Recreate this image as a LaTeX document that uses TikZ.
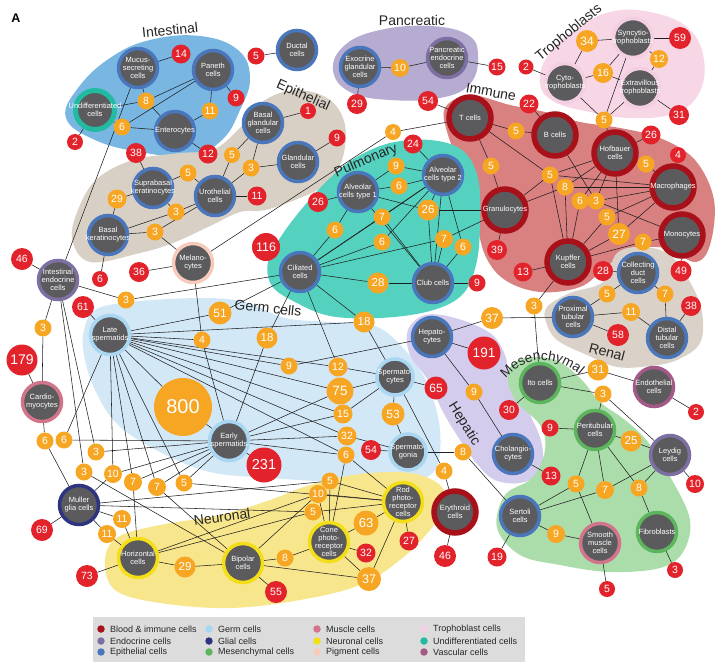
\documentclass[tikz,border=0pt]{standalone}
\usepackage{fontspec}
\setmainfont{Liberation Sans}
\setsansfont{Liberation Sans}
\usetikzlibrary{decorations.text}
\definecolor{cgray}{HTML}{5B5B5D}
\definecolor{cred}{HTML}{E3232C}
\definecolor{corg}{HTML}{F6A623}
\definecolor{cepi}{HTML}{4A76BC}
\definecolor{cimm}{HTML}{A8101A}
\definecolor{cendo}{HTML}{7E6FA3}
\definecolor{cgerm}{HTML}{A9D6F0}
\definecolor{cgli}{HTML}{2F3480}
\definecolor{cmes}{HTML}{5DB65D}
\definecolor{cmus}{HTML}{D2748A}
\definecolor{cneu}{HTML}{F3DE17}
\definecolor{cpig}{HTML}{F6CBBC}
\definecolor{ctro}{HTML}{F4CFE1}
\definecolor{cund}{HTML}{22BBA2}
\definecolor{cvas}{HTML}{A45A86}
\definecolor{bint}{HTML}{79B7E2}
\definecolor{bepi}{HTML}{D9D0C5}
\definecolor{bpan}{HTML}{B6ACD1}
\definecolor{btro}{HTML}{F7D6E6}
\definecolor{bimm}{HTML}{D98080}
\definecolor{bren}{HTML}{DAD2C8}
\definecolor{bpul}{HTML}{55D1BF}
\definecolor{bger}{HTML}{D2E8F7}
\definecolor{bhep}{HTML}{D3CCEC}
\definecolor{bmes}{HTML}{ABDDAB}
\definecolor{bneu}{HTML}{F8E68C}
\definecolor{bleg}{HTML}{DCDCDC}
\pgfdeclarelayer{blobs}
\pgfdeclarelayer{edges}
\pgfsetlayers{blobs,edges,main}
\tikzset{
  cl/.style={circle,fill=cgray,draw=#1,line width=3.5pt,minimum size=39pt,inner sep=0pt},
  ic/.style={circle,fill=cgray,draw=cimm,line width=5.5pt,minimum size=42pt,inner sep=0pt},
  ctext/.style={text=white,font=\fontsize{7.5}{7.9}\selectfont,align=center,inner sep=0pt},
  rn/.style={circle,fill=cred,text=white,inner sep=0pt,minimum size=#1,font=\fontsize{10.5}{10.5}\selectfont},
  rn/.default=19pt,
  og/.style={circle,fill=corg,text=white,inner sep=0pt,minimum size=#1,font=\fontsize{10.5}{10.5}\selectfont},
  og/.default=17pt,
  fs/.style={font=\fontsize{#1}{#1}\selectfont},
  lnk/.style={draw=black!88,line width=0.55pt},
  grp/.style={font=\fontsize{14}{14}\selectfont,text=black!85,inner sep=0pt},
  legtext/.style={font=\fontsize{9}{9}\selectfont,anchor=west,inner sep=0pt,text=black!85},
}
\newcommand\cellnode[5]{\node[#4] (#1) at (#2,#3) {};\node[ctext] (#1t) at (#1.center) {#5};}
\begin{document}
\begin{tikzpicture}[x=1pt,y=-1pt]
\useasboundingbox (0,0) rectangle (720,667);
\begin{pgfonlayer}{blobs}
\fill[white] (0,0) rectangle (720,667);
% Intestinal
\fill[bint] plot[smooth cycle,tension=0.7] coordinates {(66,118) (78,88) (110,58) (150,40) (200,36) (238,50) (250,78) (240,110) (222,140) (190,156) (140,152) (95,140)};
% Epithelial
\fill[bepi] plot[smooth cycle,tension=0.6] coordinates {(72,238) (80,205) (98,178) (133,160) (180,153) (213,150) (240,128) (265,100) (298,90) (330,100) (345,125) (342,160) (325,185) (295,200) (265,210) (240,212) (210,226) (173,243) (140,253) (90,262)};
% Pancreatic
\fill[bpan] plot[smooth cycle,tension=0.7] coordinates {(333,70) (345,45) (380,30) (430,26) (468,35) (478,56) (470,84) (440,98) (390,100) (350,92)};
% Trophoblasts
\fill[btro] plot[smooth cycle,tension=0.7] coordinates {(540,84) (548,55) (575,30) (610,12) (650,12) (688,28) (704,60) (698,95) (672,114) (630,118) (590,112) (555,102)};
% Immune
\fill[bimm] plot[smooth cycle,tension=0.6] coordinates {(445,108) (470,95) (510,105) (545,112) (580,122) (620,128) (660,138) (695,160) (714,200) (710,245) (695,262) (665,248) (630,250) (605,268) (580,287) (540,292) (505,280) (485,255) (475,215) (462,170) (448,135)};
% Renal
\fill[bren] plot[smooth cycle,tension=0.6] coordinates {(547,307) (570,293) (603,282) (617,253) (643,247) (670,255) (690,282) (702,312) (700,343) (677,360) (650,366) (617,367) (587,355) (557,340) (546,322)};
% Pulmonary
\fill[bpul] plot[smooth cycle,tension=0.6] coordinates {(268,262) (282,235) (305,205) (330,178) (355,158) (390,143) (430,140) (462,150) (478,178) (480,225) (476,265) (462,295) (430,311) (380,318) (330,316) (295,302) (272,286)};
% Germ cells
\fill[bger] plot[smooth cycle,tension=0.6] coordinates {(84,330) (95,310) (130,302) (200,298) (245,302) (285,318) (330,322) (375,326) (405,350) (428,385) (440,430) (435,470) (405,482) (340,482) (270,478) (210,472) (160,452) (118,425) (95,390) (84,355)};
% Hepatic
\fill[bhep] plot[smooth cycle,tension=0.6] coordinates {(408,330) (425,315) (455,318) (490,333) (505,355) (512,385) (530,415) (542,445) (540,472) (520,483) (495,480) (478,465) (460,440) (442,410) (428,380) (410,355)};
% Mesenchymal
\fill[bmes] plot[smooth cycle,tension=0.6] coordinates {(508,372) (525,358) (555,360) (580,378) (600,402) (625,420) (648,442) (672,480) (690,520) (683,552) (660,568) (610,572) (560,565) (520,555) (497,528) (505,495) (532,478) (545,450) (540,425) (515,400)};
% Neuronal
\fill[bneu] plot[smooth cycle,tension=0.6] coordinates {(105,560) (118,537) (160,525) (220,515) (270,500) (310,485) (360,474) (410,473) (440,485) (445,505) (430,530) (400,560) (360,585) (300,600) (230,608) (160,603) (115,590)};
\end{pgfonlayer}

\node[font=\bfseries\fontsize{12.5}{12.5}\selectfont] (lblA) at (16,18) {A};
% group labels
\node[grp,rotate=6] (gInt) at (170,30) {Intestinal};
\node[grp] (gPan) at (412,20) {Pancreatic};
\node[grp,rotate=-24] (gEpi) at (303,96) {Epithelial};
\node[grp,rotate=39] (gTro) at (569,33) {Trophoblasts};
\node[grp,rotate=-10] (gImm) at (491,92) {Immune};
\node[grp,rotate=23] (gPul) at (366,161) {Pulmonary};
\node[grp,rotate=-6] (gGer) at (268,308) {Germ cells};
\node[grp,rotate=-15] (gRen) at (607,352) {Renal};
\node[grp,rotate=-58] (gHep) at (464,424) {Hepatic};
\node[grp,rotate=8] (gNeu) at (222,517) {Neuronal};
\path[decorate,decoration={text along path,text={|\fontsize{13.5}{13.5}\selectfont\color{black!85}|Mesenchymal},text align=center}] (496,393) .. controls (518,350) and (562,350) .. (592,388);

% cells
\cellnode{muc}{138}{68}{cl=cepi}{Mucus-\\secreting\\cells}
\cellnode{pan}{213}{70}{cl=cepi}{Paneth\\cells}
\cellnode{und}{95}{110}{cl=cund,line width=5pt}{Undifferentiated\\cells}
\cellnode{ent}{175}{131}{cl=cepi}{Enterocytes}
\cellnode{duc}{297}{50}{cl=cepi}{Ductal\\cells}
\cellnode{exo}{360}{67}{cl=cepi}{Exocrine\\glandular\\cells}
\cellnode{pen}{447}{58}{cl=cendo}{Pancreatic\\endocrine\\cells}
\cellnode{bgl}{263}{123}{cl=cepi}{Basal\\glandular\\cells}
\cellnode{gla}{298}{162}{cl=cepi}{Glandular\\cells}
\cellnode{uro}{215}{196}{cl=cepi}{Urothelial\\cells}
\cellnode{sup}{153}{188}{cl=cepi}{Suprabasal\\keratinocytes}
\cellnode{bke}{108}{235}{cl=cepi}{Basal\\keratinocytes}
\cellnode{mel}{193}{263}{cl=cpig}{Melano-\\cytes}
\cellnode{ien}{58}{280}{cl=cendo}{Intestinal\\endocrine\\cells}
\cellnode{car}{42}{402}{cl=cmus}{Cardio-\\myocytes}
\cellnode{lsp}{110}{335}{cl=cgerm}{Late\\spermatids}
\cellnode{esp}{229}{441}{cl=cgerm}{Early\\spermatids}
\cellnode{cil}{300}{272}{cl=cepi}{Ciliated\\cells}
\cellnode{clu}{433}{283}{cl=cepi}{Club cells}
\cellnode{at1}{358}{192}{cl=cepi}{Alveolar\\cells type 1}
\cellnode{at2}{443}{175}{cl=cepi}{Alveolar\\cells type 2}
\cellnode{hep}{432}{337}{cl=cepi}{Hepato-\\cytes}
\cellnode{spc}{395}{377}{cl=cgerm,minimum size=36pt}{Spermato-\\cytes}
\cellnode{spg}{408}{452}{cl=cgerm,minimum size=36pt}{Spermato-\\gonia}
\cellnode{tce}{470}{118}{ic}{T cells}
\cellnode{bce}{555}{135}{ic}{B cells}
\cellnode{gra}{505}{210}{ic}{Granulocytes}
\cellnode{hof}{615}{153}{ic}{Hofbauer\\cells}
\cellnode{mac}{673}{187}{ic}{Macrophages}
\cellnode{mon}{682}{235}{ic}{Monocytes}
\cellnode{kup}{568}{262}{ic}{Kupffer\\cells}
\cellnode{syn}{633}{38}{cl=ctro}{Syncytio-\\trophoblasts}
\cellnode{cyt}{565}{83}{cl=ctro}{Cyto-\\trophoblasts}
\cellnode{ext}{640}{88}{cl=ctro}{Extravillous\\trophoblasts}
\cellnode{col}{638}{273}{cl=cepi}{Collecting\\duct\\cells}
\cellnode{pro}{573}{317}{cl=cepi}{Proximal\\tubular\\cells}
\cellnode{dis}{667}{338}{cl=cepi}{Distal\\tubular\\cells}
\cellnode{ito}{540}{383}{cl=cmes}{Ito cells}
\cellnode{endt}{654}{387}{cl=cvas}{Endothelial\\cells}
\cellnode{per}{595}{430}{cl=cmes}{Peritubular\\cells}
\cellnode{ley}{670}{455}{cl=cendo}{Leydig\\cells}
\cellnode{ser}{520}{516}{cl=cepi}{Sertoli\\cells}
\cellnode{smo}{600}{543}{cl=cmus}{Smooth\\muscle\\cells}
\cellnode{fib}{657}{532}{cl=cmes}{Fibroblasts}
\cellnode{cho}{513}{454}{cl=cepi}{Cholangio-\\cytes}
\cellnode{ery}{455}{512}{ic}{Erythroid\\cells}
\cellnode{rod}{403}{502}{cl=cneu}{Rod\\photo-\\receptor\\cells}
\cellnode{con}{329}{542}{cl=cneu}{Cone\\photo-\\receptor\\cells}
\cellnode{bip}{243}{563}{cl=cneu}{Bipolar\\cells}
\cellnode{hor}{138}{558}{cl=cneu}{Horizontal\\cells}
\cellnode{mul}{79}{505}{cl=cgli}{Muller\\glia cells}

% red numbers
\node[rn] (r14) at (181,54) {14};
\node[rn=17pt] (r9a) at (236,98) {9};
\node[rn=16pt] (r2a) at (75,142) {2};
\node[rn] (r12) at (208,154) {12};
\node[rn=20pt] (r38a) at (136,153) {38};
\node[rn=17pt] (r5a) at (256,56) {5};
\node[rn=20pt] (r29a) at (357,104) {29};
\node[rn=17pt] (r15) at (497,67) {15};
\node[rn=16pt] (r1) at (308,111) {1};
\node[rn=17pt] (r9b) at (337,138) {9};
\node[rn] (r11) at (257,196) {11};
\node[rn=16pt] (r6) at (100,279) {6};
\node[rn=20pt] (r36) at (139,272) {36};
\node[rn=22pt] (r46a) at (22,259) {46};
\node[rn=22pt] (r61) at (83,307) {61};
\node[rn=31pt,fs=14] (r179) at (22,360) {179};
\node[rn=28pt,fs=12.5] (r116) at (266,247) {116};
\node[rn] (r24) at (413,144) {24};
\node[rn=20pt] (r26a) at (318,202) {26};
\node[rn=17pt] (r9c) at (477,283) {9};
\node[rn=23pt,fs=12] (r65) at (436,388) {65};
\node[rn=33pt,fs=13.5] (r191) at (484,353) {191};
\node[rn=20pt] (r54a) at (428,101) {54};
\node[rn] (r22) at (529,104) {22};
\node[rn=20pt] (r39) at (497,250) {39};
\node[rn] (r26b) at (651,135) {26};
\node[rn=16pt] (r4) at (678,155) {4};
\node[rn=21pt] (r49) at (681,271) {49};
\node[rn] (r13a) at (523,272) {13};
\node[rn=20pt] (r28) at (603,271) {28};
\node[rn=22pt] (r59) at (680,38) {59};
\node[rn=15pt] (r2b) at (526,67) {2};
\node[rn=20pt] (r31) at (679,115) {31};
\node[rn=20pt] (r38b) at (691,306) {38};
\node[rn=22pt] (r58) at (618,335) {58};
\node[rn=20pt] (r30) at (509,410) {30};
\node[rn=16pt] (r2c) at (696,412) {2};
\node[rn=17pt] (r9d) at (550,428) {9};
\node[rn=18pt] (r10) at (695,484) {10};
\node[rn] (r19) at (497,557) {19};
\node[rn=16pt] (r5b) at (607,589) {5};
\node[rn=16pt] (r3) at (675,570) {3};
\node[rn] (r13b) at (551,476) {13};
\node[rn=35pt,fs=14.5] (r231) at (264,465) {231};
\node[rn=20pt] (r54b) at (371,450) {54};
\node[rn=22pt] (r46b) at (445,556) {46};
\node[rn] (r27) at (409,541) {27};
\node[rn] (r32) at (366,553) {32};
\node[rn=22pt] (r55) at (276,592) {55};
\node[rn=22pt] (r73) at (87,576) {73};
\node[rn=22pt] (r69) at (42,530) {69};

% orange numbers
\node[og] (o8a) at (146,101) {8};
\node[og] (o11a) at (210,111) {11};
\node[og] (o6a) at (122,127) {6};
\node[og=18pt] (o10a) at (400,68) {10};
\node[og=16pt] (o5a) at (232,155) {5};
\node[og] (o3a) at (251,168) {3};
\node[og] (o5b) at (188,173) {5};
\node[og=19pt] (o29a) at (117,199) {29};
\node[og] (o3b) at (176,212) {3};
\node[og] (o3c) at (155,232) {3};
\node[og=16pt] (o4a) at (393,132) {4};
\node[og] (o3d) at (126,300) {3};
\node[og] (o3e) at (43,328) {3};
\node[og=23pt,fs=12] (o51) at (220,313) {51};
\node[og] (o4b) at (202,340) {4};
\node[og=58pt,fs=20] (o800) at (183,407) {800};
\node[og=21pt,fs=11.5] (o28a) at (378,283) {28};
\node[og=21pt,fs=11.5] (o18a) at (364,322) {18};
\node[og=21pt,fs=11.5] (o18b) at (267,338) {18};
\node[og] (o9a) at (289,366) {9};
\node[og=19pt] (o12a) at (338,367) {12};
\node[og=27pt,fs=13.5] (o75) at (340,391) {75};
\node[og=19pt] (o15) at (343,414) {15};
\node[og=23pt,fs=12] (o53) at (393,414) {53};
\node[og] (o9b) at (396,166) {9};
\node[og] (o6b) at (399,186) {6};
\node[og=21pt,fs=11.5] (o26) at (428,210) {26};
\node[og] (o7a) at (382,217) {7};
\node[og] (o6c) at (382,242) {6};
\node[og=18pt] (o7b) at (444,239) {7};
\node[og] (o6d) at (463,247) {6};
\node[og] (o6e) at (335,230) {6};
\node[og] (o5c) at (516,131) {5};
\node[og] (o5d) at (491,166) {5};
\node[og] (o5e) at (604,120) {5};
\node[og] (o5f) at (646,164) {5};
\node[og] (o5g) at (550,175) {5};
\node[og] (o8b) at (565,187) {8};
\node[og] (o6f) at (580,201) {6};
\node[og] (o3f) at (596,201) {3};
\node[og] (o5h) at (607,217) {5};
\node[og=22pt,fs=12] (o27) at (619,234) {27};
\node[og] (o7c) at (643,242) {7};
\node[og=22pt,fs=12] (o34) at (587,41) {34};
\node[og=18pt] (o12b) at (659,59) {12};
\node[og=20pt] (o16) at (603,73) {16};
\node[og] (o5i) at (607,294) {5};
\node[og] (o7d) at (665,294) {7};
\node[og=18pt] (o11b) at (631,312) {11};
\node[og=22pt,fs=12] (o37a) at (492,318) {37};
\node[og] (o3g) at (534,306) {3};
\node[og] (o9c) at (474,392) {9};
\node[og=21pt,fs=11.5] (o31) at (598,370) {31};
\node[og] (o3h) at (603,394) {3};
\node[og=21pt,fs=11.5] (o25) at (631,441) {25};
\node[og] (o5j) at (576,484) {5};
\node[og=18pt] (o7e) at (605,490) {7};
\node[og] (o8c) at (639,488) {8};
\node[og=18pt] (o9d) at (556,534) {9};
\node[og] (o8d) at (463,452) {8};
\node[og=19pt] (o32) at (347,436) {32};
\node[og] (o6g) at (346,455) {6};
\node[og] (o4c) at (444,471) {4};
\node[og=25pt,fs=13] (o63) at (366,523) {63};
\node[og=24pt,fs=12.5] (o37b) at (369,579) {37};
\node[og] (o5k) at (330,481) {5};
\node[og=18pt] (o10b) at (318,494) {10};
\node[og] (o5l) at (313,512) {5};
\node[og] (o8e) at (285,558) {8};
\node[og=21pt,fs=11.5] (o29b) at (185,567) {29};
\node[og=18pt] (o11c) at (122,519) {11};
\node[og=18pt] (o11d) at (107,534) {11};
\node[og] (o6h) at (45,441) {6};
\node[og] (o6i) at (64,440) {6};
\node[og] (o3i) at (96,452) {3};
\node[og] (o3j) at (84,472) {3};
\node[og=18pt] (o10c) at (113,474) {10};
\node[og=18pt] (o7f) at (133,482) {7};
\node[og=18pt] (o7g) at (157,487) {7};
\node[og] (o5m) at (184,483) {5};

\begin{pgfonlayer}{edges}
\foreach \a/\b in {muc/r14, muc/o8a, pan/o8a, pan/o6a, und/o8a, und/o6a, o8a/ent, o6a/ent, pan/o11a, o11a/ent, pan/r9a, ent/r12, und/r2a, muc/ien,
duc/r5a, exo/o10a, o10a/pen, exo/r29a, pen/r15,
bgl/r1, bgl/o5a, o5a/uro, bgl/o3a, gla/o3a, o3a/uro, gla/r9b, uro/r11, sup/r38a, sup/o5b, o5b/uro, sup/o29a, bke/o29a, bke/o3b, o3b/uro, sup/o3b, bke/o3c, o3c/mel, o3c/uro, bke/r6,
mel/r36, mel/o4a, o4a/tce, mel/o4b, o4b/esp, lsp/o4b,
ien/r46a, ien/o3d, o3d/cil, ien/o3e, o3e/car, car/r179, ien/o3i, ien/o3j, o3j/bip, o3i/esp,
lsp/r61, lsp/o51, o51/cil, lsp/o18a, o18a/cil, o18a/spc, cil/o18b, o18b/esp, lsp/o9a, o9a/hep, lsp/o12a, cil/o12a, o12a/spc, lsp/o75, esp/o75, o75/spc, lsp/o15, esp/o15, o15/spc, lsp/o32, esp/o32, o32/spg, lsp/o6g, esp/o6g, o6g/con, o6g/rod, spg/r54b, spc/r65, spc/o53, o53/spg, spc/o4c, o4c/ery, spg/o8d, o8d/ser, ery/r46b, esp/r231, lsp/o800, o800/esp,
lsp/o6i, esp/o6i, car/o6h, o6h/mul, esp/o10c, lsp/o10c, o10c/mul, esp/o7f, lsp/o7f, o7f/hor, esp/o7g, lsp/o7g, o7g/bip, esp/o5m, lsp/o5m, o5m/rod,
mul/r69, mul/o11c, o11c/hor, mul/o11d, o11d/hor, mul/o5k, mul/o5l,
hor/r73, hor/o29b, o29b/bip, hor/o10b, hor/o5l,
bip/o8e, o8e/con, bip/o37b, con/o37b, o37b/rod, bip/r55, o5l/rod, bip/o10b, o10b/rod, o10b/con, con/o63, o63/rod, con/r32, rod/r27, o5k/con, o5k/rod,
at1/r26a, at2/r24, at1/o9b, o9b/at2, at1/o6b, o6b/at2, at1/o26, at2/o26, o26/gra, o26/clu, cil/o7a, o7a/at2, o7a/clu, cil/o6c, o6c/at2, cil/o7b, o7b/gra, o7b/clu, at2/o6d, o6d/clu, at1/clu, at2/clu, cil/o28a, o28a/clu, clu/r9c, cil/o6e, o6e/at1, cil/at2,
tce/r54a, tce/o5c, o5c/bce, tce/o5d, o5d/gra, tce/o5g, bce/r22, bce/o3f, hof/o5g, o5g/mac, o5g/gra, o5g/kup, hof/o8b, o8b/gra, o8b/mac, o8b/kup, hof/o6f, o6f/kup, hof/o3f, o3f/mac, o3f/mon, mac/o5h, o5h/kup, hof/o27, o27/kup, o27/mac, mon/o7c, o7c/kup, hof/r26b, hof/o5f, o5f/mac, mac/r4, mon/r49, gra/r39, kup/r13a, kup/o3g, o3g/ito,
cyt/o34, o34/syn, syn/r59, syn/o12b, o12b/ext, cyt/o16, o16/ext, syn/o16, cyt/r2b, ext/r31, cyt/o5e, syn/o5e, ext/o5e, o5e/hof,
col/r28, col/o5i, o5i/pro, col/o7d, o7d/dis, pro/o11b, o11b/dis, dis/r38b, pro/r58, o37a/pro, hep/o37a,
hep/r191, hep/o9c, o9c/cho, cho/r13b,
ito/r30, ito/o31, o31/endt, ito/o3h, o3h/per, o3h/ley, endt/r2c, per/r9d, per/o25, o25/ley, per/o5j, o5j/ser, o5j/smo, per/o7e, o7e/ser, o7e/ley, per/o8c, o8c/ley, o8c/fib, ser/o9d, o9d/smo, ser/r19, smo/r5b, fib/r3, ley/r10}
  \draw[lnk] (\a) -- (\b);
\end{pgfonlayer}

% legend
\node[fill=bleg,minimum width=432pt,minimum height=45pt,anchor=north west,inner sep=0pt] (leg) at (93,617) {};
\foreach \n/\x/\y/\c/\t in {1/101/629/cimm/Blood \& immune cells, 2/101/641/cendo/Endocrine cells, 3/101/652/cepi/Epithelial cells,
 4/209/629/cgerm/Germ cells, 5/209/641/cgli/Glial cells, 6/209/652/cmes/Mesenchymal cells,
 7/317/629/cmus/Muscle cells, 8/317/641/cneu/Neuronal cells, 9/317/652/cpig/Pigment cells,
 10/424/629/ctro/Trophoblast cells, 11/424/641/cund/Undifferentiated cells, 12/424/652/cvas/Vascular cells}{
  \node[circle,fill=\c,minimum size=7.5pt,inner sep=0pt] (ld\n) at (\x,\y) {};
  \node[legtext] (lt\n) at (\x+9,\y) {\t};
}
\end{tikzpicture}
\end{document}
